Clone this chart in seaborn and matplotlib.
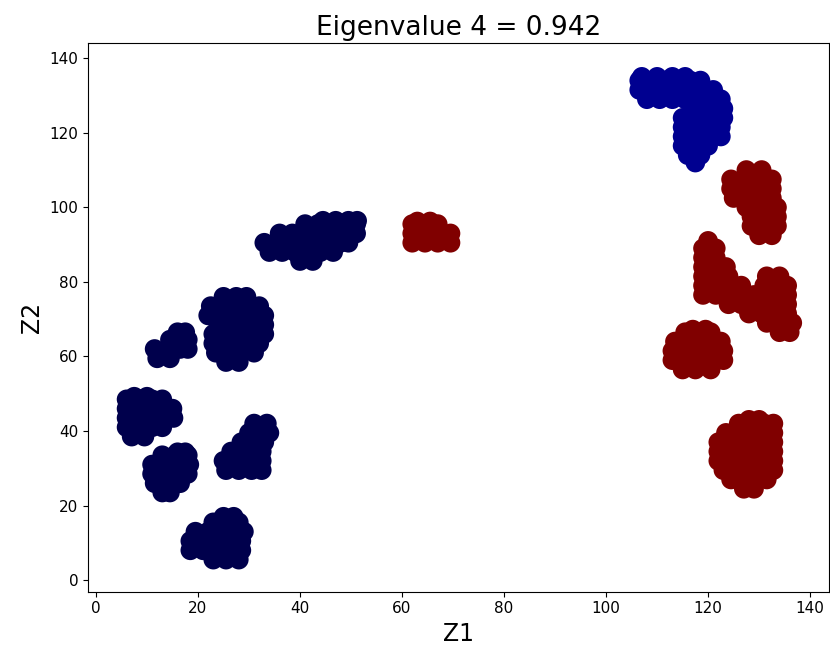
import numpy as np
import pandas as pd
import matplotlib
matplotlib.use("Agg")
import matplotlib.pyplot as plt
import seaborn as sns

# each cluster: Z2 row -> Z1 positions
navy_band = {85.6: [40, 42.5],
             88: [34, 36.5, 39, 41.5, 44, 46.5],
             90.5: [33, 35.5, 38, 40.5, 43, 45.5, 48, 49.5],
             93: [36, 38.5, 41, 43.5, 46, 48.5, 51],
             95.5: [41, 43.5, 46, 48.5, 51],
             96.4: [44.5, 47, 49.5, 51.2]}
navy_mid = {58.5: [25.5, 28],
            61: [23.5, 26, 28.5, 31],
            63.5: [23, 25.5, 28, 30.5, 32],
            66: [23, 25.5, 28, 30.5, 33],
            68.5: [24, 26.5, 29, 31.5, 33],
            71: [22, 24.5, 27, 29.5, 32, 33],
            73.5: [22.5, 25, 27.5, 30, 32],
            76: [25, 27.5, 29.5]}
navy_small = {59.5: [12, 14.5],
              62: [11.5, 14, 16.5, 18],
              64.5: [14.5, 17, 18],
              66.5: [16, 17.5]}
navy_left = {38.5: [7, 9.5],
             41: [6, 8.5, 11, 13],
             43.5: [6, 8.5, 11, 13.5, 15.2],
             46: [6, 8.5, 11, 13.5, 15],
             48.5: [6, 8.5, 11, 13],
             49.2: [7.5, 10]}
navy_low1 = {23.5: [13, 14.5],
             26: [11.5, 14, 16.5],
             28.5: [11, 13.5, 16, 18],
             31: [11, 13.5, 16, 18.3],
             33.5: [13, 15.5, 18],
             34.3: [16, 17.5]}
navy_low2 = {29.5: [25.5, 28, 30.5, 32.5],
             32: [25, 27.5, 30, 32.5],
             34.5: [26.5, 29, 31.5, 32.5],
             37: [28.5, 31, 33],
             39.5: [30, 32.5, 34],
             42: [31, 33.5]}
navy_bottom = {5.5: [23, 25.5, 28],
               8: [18.5, 21, 23.5, 26, 28.5],
               10.5: [18.5, 21, 23.5, 26, 28.5],
               13: [19.5, 22, 24.5, 27, 29],
               15.5: [23, 25.5, 28],
               17: [25, 27]}

blue_top = {112: [117.5],
            114: [116, 118.5],
            116.5: [115, 117.5, 120],
            119: [115, 117.5, 120, 122.5],
            121.5: [115, 117.5, 120, 122.5],
            124: [115, 117.5, 120, 122.5, 123],
            126.5: [117, 119.5, 122, 123],
            129: [108, 110.5, 113, 115.5, 118, 120.5, 122.5],
            131.5: [106.5, 109, 111.5, 114, 116.5, 119, 121],
            134: [106.5, 109, 111.5, 114, 116.5, 118.5],
            135: [107, 110, 113, 115.5]}

red_mid = {90.5: [62, 64.5, 67, 69.5],
           93: [62, 64.5, 67, 69.5],
           95.5: [62, 64.5, 67],
           96.2: [63, 65.5]}
red_upper = {92.5: [130, 132.5],
             95: [128.5, 131, 133.5],
             97.5: [128.5, 131, 133.5],
             100: [127.5, 130, 132.5, 133.5],
             102.5: [125, 127.5, 130, 132.5],
             105: [124.5, 127, 129.5, 132.5],
             107.5: [124.5, 127, 129.5, 132.5],
             110: [127.5, 130.5]}
red_lshape = {66.5: [134, 136],
              69: [131.5, 134, 136.5],
              71.5: [128, 130.5, 133, 135.5],
              74: [124, 126.5, 129, 131.5, 134, 135.5],
              76.5: [119, 121.5, 124, 126.5, 129, 131.5, 134, 135.5],
              79: [119, 121.5, 124, 126.5, 131, 133.5, 135.5],
              81.5: [119, 121.5, 124, 131.5, 134],
              84: [119, 121.5, 123.5],
              86.5: [119, 121.5],
              89: [119, 121.5],
              91: [120]}
red_round = {56.5: [115, 117.5, 120.5],
             59: [113, 115.5, 118, 120.5, 123],
             61.5: [113, 115.5, 118, 120.5, 123],
             64: [113.5, 116, 118.5, 121, 122.5],
             66.5: [115.5, 118, 120.5],
             67.2: [117, 119.5]}
red_bottom = {24.5: [127, 129],
              27: [124.5, 127, 129.5, 131.5],
              29.5: [123, 125.5, 128, 130.5, 132.8],
              32: [122, 124.5, 127, 129.5, 132, 132.8],
              34.5: [122, 124.5, 127, 129.5, 132, 132.8],
              37: [122, 124.5, 127, 129.5, 132, 132.8],
              39.5: [123.5, 126, 128.5, 131, 132.8],
              42: [126, 128.5, 131, 132.8],
              43: [128, 130]}

groups = {
    "navy": [navy_band, navy_mid, navy_small, navy_left, navy_low1, navy_low2, navy_bottom],
    "blue": [blue_top],
    "red": [red_mid, red_upper, red_lshape, red_round, red_bottom],
}
colors = {"navy": "#00004c", "blue": "#000090", "red": "#800000"}

rows = []
for name, blobs in groups.items():
    for blob in blobs:
        for y, xs in blob.items():
            for x in xs:
                rows.append({"Z1": x, "Z2": y, "group": name})
df = pd.DataFrame(rows)

fig = plt.figure(figsize=(8.3, 6.49), dpi=100)
ax = fig.add_axes([0.1064, 0.0883, 0.8924, 0.845])

sns.scatterplot(data=df, x="Z1", y="Z2", hue="group", palette=colors,
                s=200, linewidth=0, legend=False, ax=ax)

ax.set_xlim(-1.5, 143.7)
ax.set_ylim(-3.1, 144)
ax.set_xticks(np.arange(0, 141, 20))
ax.set_yticks(np.arange(0, 141, 20))
ax.tick_params(labelsize=11)
ax.set_title("Eigenvalue 4 = 0.942", fontsize=19)
ax.set_xlabel("Z1", fontsize=17)
ax.set_ylabel("Z2", fontsize=17)

fig.savefig("out.png", dpi=100)
